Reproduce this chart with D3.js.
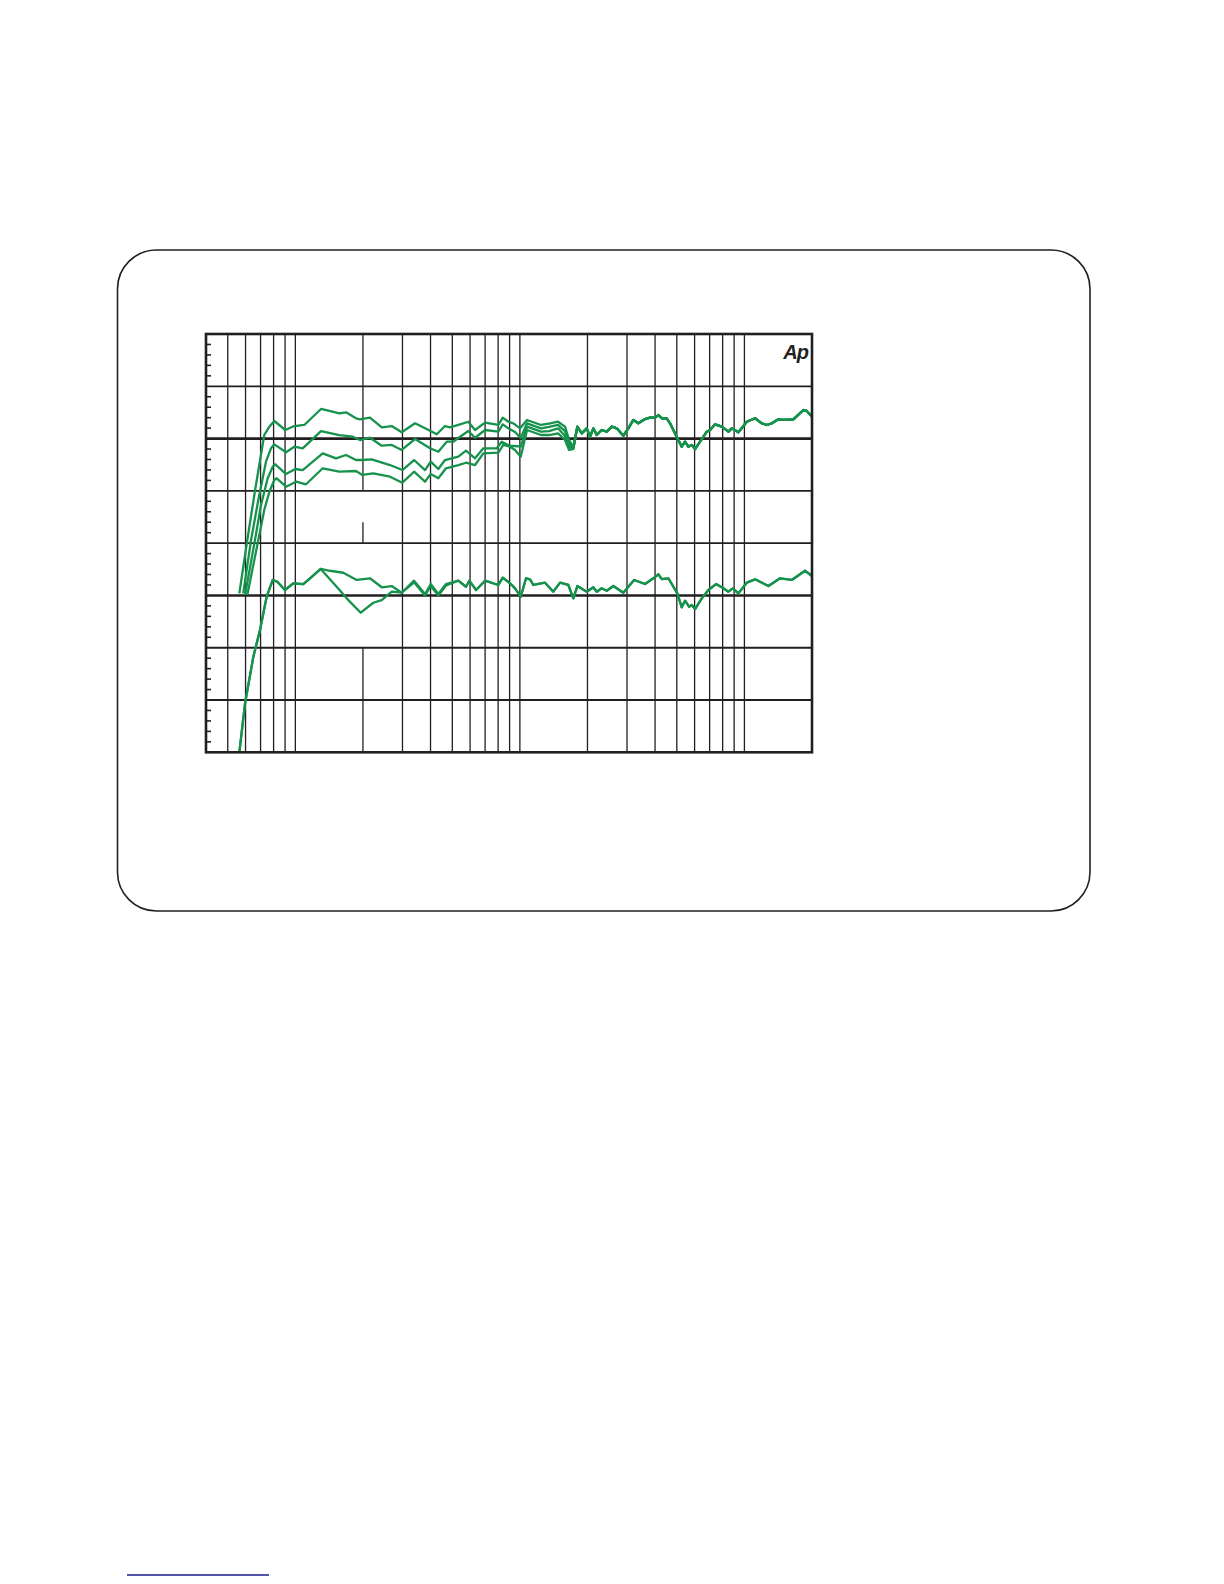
<!DOCTYPE html>
<html><head><meta charset="utf-8">
<script src="https://cdn.jsdelivr.net/npm/d3@7"></script>
<style>html,body{margin:0;padding:0;background:#fff}svg{display:block}</style>
</head><body><svg id="c" width="1224" height="1584"></svg>
<script>
// ---- axis / grid definitions ----
const freqDomain = [40, 20000];
const dbDomain = [-20, 20];
const freqGrid = [50,60,70,80,90,100,200,300,400,500,600,700,800,900,1000,2000,3000,4000,5000,6000,7000,8000,9000,10000];
const dbGrid = [-15,-10,-5,0,5,10,15];
const dbHeavy = [10,-5];
const gap200 = [[20,5],[2,0],[-10,-20]]; // drawn segments of the 200 Hz line
const logoText = "Ap";

// ---- series: [frequency Hz, level dB] ----
const top1Head = [[56.3,-4.80],[61.1,0.30],[66.1,5.0],[72.7,10.34],[76.6,11.14],[80.6,11.68],[90.2,10.82],[98.9,11.20],[109.6,11.30],[130.1,12.83],[141.7,12.64],[157.0,12.42],[168.1,12.51],[186.3,11.94],[194.1,11.84],[215.0,12.00],[242.5,11.08],[268.7,11.20],[297.7,10.60],[341.2,11.46],[398.0,10.75],[426.2,10.41],[464.1,11.20],[488.6,11.08],[541.3,11.36],[589.4,11.61],[631.4,10.82],[699.6,11.52],[801.8,11.30],[838.8,12.00],[888.4,11.61],[935.1,11.46],[1002,10.98],[1076,11.78],[1242,11.30],[1349,11.44],[1479,11.61],[1589,11.14],[1656,9.86],[1730,9.19]];
const top2Head = [[58.6,-4.80],[63.5,0.30],[68.4,4.13],[74.0,7.79],[77.9,9.07],[80.6,9.45],[90.9,8.69],[98.9,9.22],[107.8,9.07],[130.1,10.72],[157.0,10.34],[180.1,10.18],[194.1,9.86],[215.0,10.08],[242.5,9.32],[268.7,9.39],[297.7,8.91],[341.2,9.96],[398.0,9.07],[433.3,8.74],[472.3,9.70],[505.4,9.70],[541.3,10.18],[589.4,10.72],[631.4,10.08],[699.6,10.82],[801.8,10.66],[838.8,11.36],[888.4,10.98],[951.6,10.63],[1009,10.05],[1076,11.46],[1242,10.98],[1349,11.11],[1479,11.30],[1589,10.72],[1656,9.48],[1730,9.10]];
const top3Head = [[59.7,-4.96],[66.1,0.30],[70.3,3.65],[75.3,6.20],[79.3,7.31],[81.4,7.54],[90.9,6.61],[100,7.09],[107.8,6.99],[132.4,8.59],[151.8,8.11],[168.1,8.43],[186.3,7.95],[198.7,7.95],[218.8,8.02],[264.0,7.47],[299.6,6.99],[337.8,7.95],[378.1,6.99],[400.8,7.79],[433.3,7.09],[464.1,7.95],[532.0,8.27],[575.7,8.84],[631.4,8.11],[687.5,9.07],[788.9,9.07],[830.3,9.70],[904.0,9.29],[951.6,9.29],[1009,9.22],[1076,11.14],[1242,10.66],[1349,10.72],[1479,10.98],[1589,10.25],[1656,9.19],[1730,9.05]];
const top4Head = [[61.1,-4.96],[68.4,0.30],[72.7,3.17],[76.6,4.92],[80.6,6.04],[82.6,6.20],[90.9,5.40],[100.7,5.88],[111.6,5.63],[132.4,7.16],[157.0,6.83],[186.3,6.90],[198.7,6.52],[222.4,6.68],[264.0,6.35],[299.6,5.78],[337.8,6.83],[378.1,5.88],[400.8,6.61],[433.3,6.20],[468.9,7.16],[532.0,7.47],[575.7,7.69],[631.4,7.47],[687.5,8.59],[801.8,8.65],[844.0,9.39],[904.0,9.22],[951.6,8.91],[1009,8.27],[1076,10.82],[1242,10.34],[1349,10.34],[1479,10.50],[1589,9.86],[1656,8.91],[1730,9.00]];
const topTail = [[1803,11.14],[1886,10.50],[1985,10.98],[2054,10.18],[2124,10.98],[2200,10.34],[2315,10.82],[2437,10.66],[2565,11.14],[2700,10.98],[2890,10.27],[3042,10.98],[3202,11.78],[3370,11.46],[3610,11.87],[3799,12.00],[4000,12.00],[4138,12.25],[4285,11.94],[4510,11.94],[4665,11.46],[4995,10.18],[5258,9.22],[5439,9.70],[5628,9.22],[5828,9.39],[6029,9.00],[6346,9.70],[6800,10.66],[7034,10.82],[7401,11.36],[7928,11.14],[8485,10.66],[8786,10.98],[9400,10.60],[10245,11.61],[11156,11.94],[11951,11.46],[12580,11.30],[13243,11.46],[14167,11.84],[14913,11.78],[16525,11.84],[18307,12.73],[18954,12.64],[20000,12.09]];

const bottomHead = [[56.3,-20.0],[59.7,-15.32],[65.0,-10.86],[69.6,-8.31],[74.5,-5.12],[79.3,-3.52],[83.1,-3.69],[89.9,-4.48],[97.9,-3.84],[108.5,-3.91],[116.2,-3.36],[129.7,-2.47]];
const bottomMidA = [[152.8,-4.17],[169.3,-5.28],[195.5,-6.65],[222.4,-5.70],[242.5,-5.44],[268.7,-4.64],[297.7,-4.74],[337.8,-3.75],[378.1,-5.0],[400.8,-4.1],[433.3,-5.0],[468.9,-4.05]];
const bottomMidB = [[142.7,-2.64],[163.5,-2.83],[187.6,-3.52],[215.0,-3.36],[242.5,-4.22],[268.7,-4.10],[297.7,-4.74],[337.8,-3.59],[378.1,-4.86],[400.8,-3.91],[433.3,-4.86],[468.9,-3.91]];
const bottomTail = [[532.0,-3.59],[575.7,-4.17],[595.5,-3.59],[637.9,-4.48],[699.6,-3.59],[801.8,-4.00],[838.8,-3.30],[904.0,-3.84],[951.6,-4.32],[1009,-5.12],[1065,-3.36],[1110,-3.46],[1148,-4.00],[1294,-3.78],[1409,-4.64],[1510,-3.78],[1644,-4.00],[1730,-5.28],[1803,-4.10],[1985,-4.64],[2124,-4.22],[2200,-4.64],[2315,-4.32],[2437,-4.55],[2608,-4.10],[2890,-4.74],[3225,-3.52],[3610,-3.91],[3930,-3.36],[4138,-2.98],[4285,-3.43],[4585,-3.36],[5026,-4.80],[5258,-6.14],[5439,-5.50],[5669,-6.08],[5828,-5.92],[6029,-6.30],[6458,-5.28],[6912,-4.48],[7477,-3.91],[8061,-4.32],[8485,-4.64],[8877,-4.32],[9400,-4.80],[10245,-3.78],[11156,-3.46],[12790,-4.10],[14410,-3.36],[16256,-3.52],[18626,-2.64],[20000,-3.14]];

const series = [
  top1Head.concat(topTail),
  top2Head.concat(topTail),
  top3Head.concat(topTail),
  top4Head.concat(topTail),
  bottomHead.concat(bottomMidA, bottomTail),
  bottomHead.concat(bottomMidB, bottomTail)
];

// ---- drawing ----
const svg = d3.select("#c");
const ink = "#231f20";
const green = "#16924c";
const plot = {left: 206, right: 812, top: 334, bottom: 752.3};

// outer rounded box
svg.append("rect").attr("x",117.5).attr("y",250).attr("width",972.5).attr("height",661)
  .attr("rx",39).attr("ry",39).attr("fill","none").attr("stroke",ink).attr("stroke-width",1.6);

const x = d3.scaleLog().domain(freqDomain).range([plot.left, plot.right]);
const y = d3.scaleLinear().domain(dbDomain).range([plot.bottom, plot.top]);

const g = svg.append("g");

// vertical grid
g.selectAll("line.v").data(freqGrid.filter(f => f !== 200)).join("line")
  .attr("x1", d => x(d)).attr("x2", d => x(d))
  .attr("y1", y(dbDomain[1])).attr("y2", y(dbDomain[0]))
  .attr("stroke", ink).attr("stroke-width", 1.3);
g.selectAll("line.v200").data(gap200).join("line")
  .attr("x1", x(200)).attr("x2", x(200))
  .attr("y1", d => y(d[0])).attr("y2", d => y(d[1]))
  .attr("stroke", ink).attr("stroke-width", 1.3);

// horizontal grid
g.selectAll("line.h").data(dbGrid).join("line")
  .attr("x1", x(freqDomain[0])).attr("x2", x(freqDomain[1]))
  .attr("y1", d => y(d)).attr("y2", d => y(d))
  .attr("stroke", ink).attr("stroke-width", d => dbHeavy.includes(d) ? 2.6 : 1.8);

// minor ticks on left axis (inside)
const minor = d3.range(-19, 20).filter(v => v % 5 !== 0);
g.selectAll("line.m").data(minor).join("line")
  .attr("x1", x(freqDomain[0])).attr("x2", x(freqDomain[0]) + 5)
  .attr("y1", d => y(d)).attr("y2", d => y(d))
  .attr("stroke", ink).attr("stroke-width", 1.6);

// clip for curves
svg.append("clipPath").attr("id","pc").append("rect")
  .attr("x", plot.left).attr("y", plot.top).attr("width", plot.right - plot.left).attr("height", plot.bottom - plot.top);

const line = d3.line().x(d => x(d[0])).y(d => y(d[1]));
svg.append("g").attr("clip-path","url(#pc)")
  .selectAll("path").data(series).join("path")
  .attr("d", line).attr("fill","none").attr("stroke", green)
  .attr("stroke-width", 2.3).attr("stroke-linejoin","round");

// border
svg.append("rect").attr("x", plot.left).attr("y", plot.top)
  .attr("width", plot.right - plot.left).attr("height", plot.bottom - plot.top)
  .attr("fill","none").attr("stroke", ink).attr("stroke-width", 2.6);

// logo
svg.append("text").attr("x", 808).attr("y", 359).attr("text-anchor","end")
  .attr("font-family","'Liberation Sans', Arial, sans-serif").attr("font-weight","bold")
  .attr("font-style","italic").attr("font-size", 20).attr("letter-spacing", -1)
  .attr("fill", ink).text(logoText);

// link underline at page bottom
svg.append("line").attr("x1",127).attr("x2",269).attr("y1",1575).attr("y2",1575)
  .attr("stroke","#1a1a8e").attr("stroke-width",1.6);
</script>
</body></html>
